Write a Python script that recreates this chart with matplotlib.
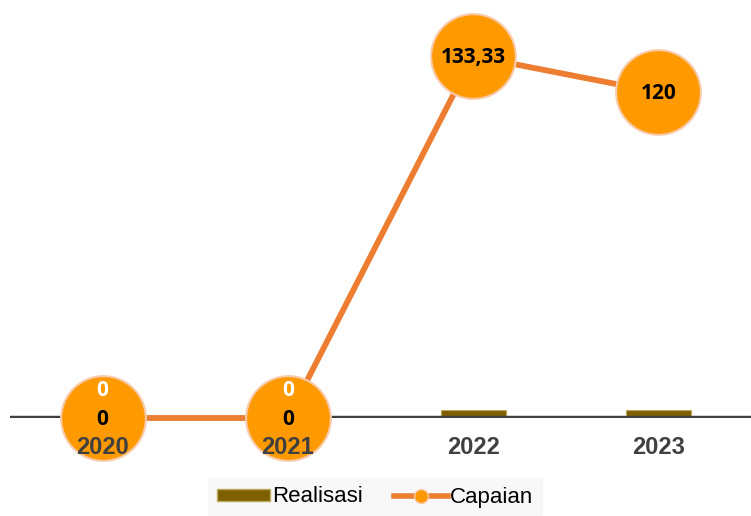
import matplotlib
matplotlib.use("Agg")
import matplotlib.pyplot as plt
from matplotlib.lines import Line2D
from matplotlib.patches import Patch

years = ["2020", "2021", "2022", "2023"]
realisasi = [0, 0, 3, 3]
capaian = [0, 0, 133.33, 120]
capaian_labels = ["0", "0", "133,33", "120"]
realisasi_labels = ["0", "0", "3", "3"]

bar_color = "#7F6000"
line_color = "#ED7D31"
marker_color = "#FF9900"
marker_edge = "#F8CBAD"

fig = plt.figure(figsize=(7.51, 5.16), dpi=100)
ax = fig.add_axes([10 / 751, (516 - 418) / 516, 741 / 751, 418 / 516])

x = list(range(len(years)))
ax.bar(x, realisasi, width=0.35, color=bar_color, edgecolor="#BFA85E",
       linewidth=0.8, zorder=2)
ax.axhline(0, color="#404040", lw=3.2, zorder=3)
ax.plot(x, capaian, color=line_color, lw=4.2, marker="o", markersize=61,
        markerfacecolor=marker_color, markeredgecolor=marker_edge,
        markeredgewidth=1.5, zorder=4, clip_on=False)

for xi, v, lab in zip(x, capaian, capaian_labels):
    ax.text(xi, v - 0.5, lab, ha="center", va="center", fontsize=15,
            fontweight="bold", family="Open Sans", color="black", zorder=6)
for xi, v, lab in zip(x, realisasi, realisasi_labels):
    ax.text(xi, v + 10, lab, ha="center", va="center", fontsize=15,
            fontweight="bold", family="Open Sans", color="white", zorder=6)

# year labels drawn on top of the circles
for xi, yr in zip(x, years):
    ax.text(xi, -10.8, yr, ha="center", va="center", fontsize=17,
            fontweight="bold", family="Liberation Sans", color="#404040",
            zorder=7, clip_on=False)

ax.set_xlim(-0.5, 3.5)
ax.set_ylim(0, 154)
ax.set_xticks([])
ax.set_yticks([])
for s in ax.spines.values():
    s.set_visible(False)

handles = [
    Patch(facecolor=bar_color, edgecolor="#BFA85E", label="Realisasi"),
    Line2D([], [], color=line_color, lw=4, marker="o", markersize=10,
           markerfacecolor=marker_color, markeredgecolor=marker_edge,
           label="Capaian"),
]
leg = fig.legend(handles=handles, loc="center", bbox_to_anchor=(375 / 751, 1 - 497 / 516),
                 ncol=2, frameon=True, fancybox=False, handlelength=2.4,
                 handleheight=0.45, columnspacing=1.4, handletextpad=0.1,
                 borderpad=0.4, borderaxespad=0,
                 prop={"family": "Liberation Sans", "size": 16})
leg.get_frame().set_facecolor("#F7F7F7")
leg.get_frame().set_edgecolor("#F7F7F7")

fig.savefig("out.png", dpi=100)
